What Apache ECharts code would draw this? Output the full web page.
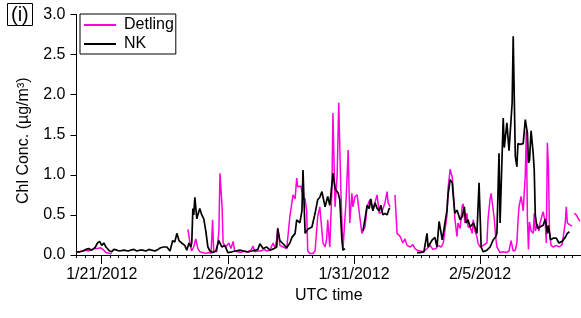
<!DOCTYPE html>
<html><head><meta charset="utf-8">
<script src="https://cdn.jsdelivr.net/npm/echarts@6/dist/echarts.min.js"></script>
<style>html,body{margin:0;padding:0;background:#fff}#c{width:581px;height:318px}</style>
</head><body><div id="c"></div>
<script>
const startDate = '2012-01-20T00:00:00Z';
const axisSpanHours = 480;
const majorTickDates = ['2012-01-21T00:00:00Z','2012-01-26T00:00:00Z','2012-01-31T00:00:00Z','2012-02-05T00:00:00Z'];
const minorTickStepHours = 8;
const yTicks = [0, 0.5, 1.0, 1.5, 2.0, 2.5, 3.0];
const seriesNames = ['Detling', 'NK'];

// hours after 2012-01-20 00:00 UTC
const detlingHours = [0,3,6,9,11.5,14.5,17.5,20,23,26,28,29.5,31.5,33.5,70,
106,108,109.5,111.5,113.5,115.5,117.5,120,123,126,128,129.5,130.5,133.5,135.5,136.5,138.5,139.5,142,145,147,149,150.5,153.5,156.5,159,161,163,166,168,169.5,172.5,175.5,178.5,181,184,187,189,190.5,191.5,193.5,196.5,200,
203,206,208,209.5,210.5,213.5,215.5,217.5,219,220,222,225,227,229.5,231.5,234.5,236.5,238,239,241,243,244,246,248,249.5,251.5,253.5,256.5,258.5,260,262,263,265,267,269.5,271.5,274.5,276.5,279,282,286,288,290.5,293.5,295.5,296.5,298.5,300.5,
303,305,308,310.5,312.5,314.5,317.5,320,322,324,327,330.5,333.5,336.5,339,342,344,347,349,350.5,352.5,353.5,355.5,357.5,358.5,360,362,363,365,367,368,369.5,371.5,372.5,374.5,376.5,377.5,379,381,382,384,387,390.5,391.5,393.5,394.5,395.5,397.5,399,
400,403,406,409,411.5,413.5,415.5,417.5,419,420,421,423,425,427,428,429,430,431,432.5,434.5,435.5,436.5,438.5,440,441,444,446,447,448,449,450,451.5,453.5,456.5,459,462,465,466,467,469,471.5,472.5,473.5,475.5,477.5,479];
const detlingValues = [0.04,0.04,0.05,0.06,0.05,0.07,0.08,0.08,0.09,0.06,0.03,0.02,0.02,0.02,null,
0.32,0.15,0.05,0.10,0.20,0.08,0.04,0.03,0.02,0.03,0.02,0.44,0.05,0.04,0.30,1.02,0.60,0.15,0.10,0.15,0.08,0.17,0.05,0.04,0.03,0.05,0.04,0.04,0.06,0.11,0.04,0.05,0.05,0.07,0.05,0.06,0.15,0.08,0.20,0.34,0.12,0.10,0.08,
0.48,0.75,0.70,0.96,0.85,0.86,0.72,0.70,0.55,0.05,0.02,0.02,0.05,0.48,0.60,0.15,0.10,0.20,0.44,0.10,0.81,1.77,0.60,1.00,1.90,0.81,0.06,0.69,1.31,0.40,0.77,0.60,0.73,0.75,0.48,0.27,0.35,0.60,0.69,0.56,0.75,0.52,0.54,0.65,0.79,0.65,0.60,null,
0.75,0.27,0.23,0.15,0.20,0.12,0.10,0.13,0.08,0.06,0.05,0.04,0.08,0.12,0.07,0.08,0.12,0.10,0.15,0.30,0.50,0.83,1.07,0.97,0.80,0.45,0.23,0.40,0.33,0.61,0.64,0.40,0.52,0.35,0.35,0.27,0.44,0.30,0.23,0.15,0.10,0.12,0.15,0.44,0.70,0.77,0.75,0.45,0.20,
0.10,0.03,0.04,0.03,0.05,0.18,0.05,0.06,0.15,0.41,0.60,0.73,0.55,1.00,1.55,0.47,0.07,0.41,0.30,0.27,0.52,0.30,0.38,0.30,0.40,0.54,0.40,0.15,1.40,1.10,0.30,0.12,0.10,0.12,0.10,0.13,0.40,0.60,0.40,0.38,0.36,null,0.52,0.50,0.45,0.42];

const nkHours = [0,3,6,9,11.5,14.5,17.5,20,22,24,26,28,29.5,31.5,33.5,35.5,38.5,41,45,49,51.5,54.5,57.5,60,63,66,69,71.5,74.5,77.5,80,83,86,89,91.5,93.5,95.5,97.5,100,103,105,107,108.8,109.7,110.7,111.6,112.6,114.5,115.4,117.3,119.2,121.1,123,125,127,129.7,132.6,135.4,138.3,141.1,144,148,151.5,155.5,159,163,167,170.5,172.5,174.5,177.5,181,184,188,190.5,191.5,193.5,196.5,
200,203,205,208,209.5,212.5,214.5,215.5,217.5,220,224,227,229.5,231.5,233.5,234.5,236.5,239,241,244,246,249,250.5,252.5,253.5,255.5,264,272.5,274.5,276.5,278.5,280,282,284,286,288,289.5,291.5,293.5,295.5,297.5,298.5,311,
324,327,330.5,333.5,334.5,338.5,341,343,345,348,349,352.5,353.5,355.5,357.5,358.5,360,362,363,365,367,369,370.5,372.5,374.5,377.5,379,381,383,385,387,390.5,393.5,396.5,399,
400,402,403,406,407,409.5,411.5,412.5,414.5,415.5,417.5,419,420,422,425,427,429,430,431,432.5,434.5,435.5,436.5,437.5,439,441,444,446,448,449,451,453.5,456.5,459,462,465,467,469];
const nkValues = [0.04,0.04,0.05,0.07,0.08,0.06,0.09,0.15,0.17,0.12,0.15,0.10,0.11,0.05,0.04,0.07,0.06,0.05,0.06,0.05,0.06,0.07,0.05,0.06,0.06,0.05,0.07,0.06,0.05,0.07,0.09,0.10,0.10,0.05,0.18,0.16,0.27,0.18,0.15,0.12,0.06,0.15,0.10,0.16,0.58,0.50,0.72,0.45,0.50,0.58,0.50,0.45,0.30,0.10,0.05,0.03,0.05,0.18,0.10,0.12,0.03,0.04,0.05,0.06,0.05,0.04,0.05,0.06,0.07,0.14,0.08,0.10,0.06,0.08,0.10,0.33,0.18,0.14,
0.09,0.15,0.22,0.27,0.44,0.40,0.55,1.06,0.27,0.32,0.35,0.52,0.69,0.72,0.79,0.78,0.60,0.73,0.62,1.02,0.83,0.77,0.69,0.19,0.06,0.08,null,0.30,0.45,0.62,0.58,0.70,0.55,0.65,0.58,0.55,0.62,0.50,0.52,0.50,0.58,0.58,null,
0.03,0.03,0.04,0.27,0.10,0.19,0.22,0.10,0.42,0.19,0.27,0.56,0.75,0.94,0.90,0.73,0.52,0.56,0.54,0.44,0.48,0.60,0.40,0.44,0.35,0.40,0.35,0.27,0.90,0.10,0.04,0.06,0.10,0.19,0.23,
0.27,1.27,0.40,1.71,1.34,1.65,1.30,1.28,1.90,2.73,1.23,1.10,1.39,1.38,1.39,1.69,1.52,1.15,1.18,1.55,1.27,1.06,0.50,0.40,0.33,0.35,0.37,0.45,0.27,0.37,0.19,0.21,0.21,0.15,0.17,0.22,0.27,0.29];

const t0 = Date.parse(startDate);
const HOUR = 3600 * 1000;
function pairs(hours, values) {
  return hours.map((h, i) => [h, values[i] === null ? '-' : values[i]]);
}
const majorTicks = majorTickDates.map(d => (Date.parse(d) - t0) / HOUR);
function hourLabel(h) {
  const d = new Date(t0 + h * HOUR);
  return (d.getUTCMonth() + 1) + '/' + d.getUTCDate() + '/' + d.getUTCFullYear();
}

const FONT = 'Liberation Sans';
const MAGENTA = '#ff00dd';
const chart = echarts.init(document.getElementById('c'), null, {renderer: 'canvas'});
chart.setOption({
  animation: false,
  backgroundColor: '#fff',
  textStyle: {fontFamily: FONT, color: '#000'},
  title: {
    text: '(i)', left: 7, top: 3, padding: [1, 4, 0, 4],
    borderColor: '#000', borderWidth: 1,
    textStyle: {fontFamily: FONT, fontSize: 20, fontWeight: 'normal', color: '#000', lineHeight: 22}
  },
  legend: {
    data: seriesNames, orient: 'vertical', left: 80, top: 14,
    borderColor: '#000', borderWidth: 1, backgroundColor: '#fff',
    padding: [3, 2, 2, 4], itemGap: 3, itemWidth: 32, itemHeight: 2, icon: 'rect',
    textStyle: {fontFamily: FONT, fontSize: 16, color: '#000', lineHeight: 16, padding: [0, 0, 0, 3]}
  },
  grid: {left: 76.5, right: 0, top: 14.5, bottom: 63, containLabel: false},
  xAxis: [{
    type: 'value', min: 0, max: axisSpanHours, interval: minorTickStepHours, position: 'bottom', offset: 3,
    axisLine: {show: true, lineStyle: {color: '#000', width: 1}},
    axisTick: {show: true, inside: false, length: 3, lineStyle: {color: '#000'}},
    axisLabel: {show: false}, splitLine: {show: false}
  }, {
    type: 'value', min: 0, max: axisSpanHours, position: 'bottom', offset: 3,
    axisLine: {show: false},
    axisTick: {show: true, inside: false, length: 6, customValues: majorTicks, lineStyle: {color: '#000'}},
    axisLabel: {
      show: true, customValues: majorTicks, margin: 9, fontSize: 16, fontFamily: FONT, color: '#000',
      formatter: hourLabel
    },
    splitLine: {show: false},
    name: 'UTC time', nameLocation: 'middle', nameGap: 28,
    nameTextStyle: {fontFamily: FONT, fontSize: 16, color: '#000'}
  }],
  yAxis: {
    type: 'value', min: yTicks[0], max: yTicks[yTicks.length - 1], interval: 0.5,
    axisLine: {show: true, lineStyle: {color: '#000', width: 1}},
    axisTick: {show: true, inside: false, length: 6, lineStyle: {color: '#000'}},
    axisLabel: {margin: 11, fontSize: 16, fontFamily: FONT, color: '#000', formatter: v => v.toFixed(1)},
    splitLine: {show: false},
    name: 'Chl Conc. (µg/m³)', nameLocation: 'middle', nameRotate: 90, nameGap: 45,
    nameTextStyle: {fontFamily: FONT, fontSize: 16, color: '#000', padding: [0, 12, 0, 0]}
  },
  series: [{
    name: seriesNames[0], type: 'line', xAxisIndex: 0, symbol: 'none', connectNulls: false,
    lineStyle: {color: MAGENTA, width: 1.5}, itemStyle: {color: MAGENTA},
    data: pairs(detlingHours, detlingValues)
  }, {
    name: seriesNames[1], type: 'line', xAxisIndex: 0, symbol: 'none', connectNulls: false,
    lineStyle: {color: '#000', width: 1.7}, itemStyle: {color: '#000'},
    data: pairs(nkHours, nkValues)
  }]
});
</script></body></html>
